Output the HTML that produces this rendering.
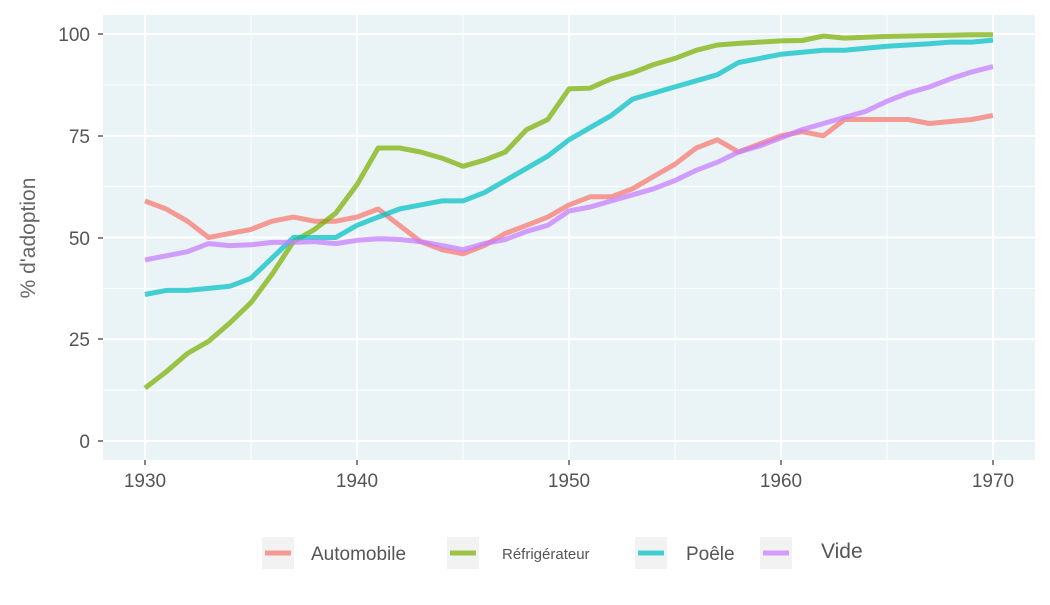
<!DOCTYPE html>
<html><head><meta charset="utf-8"><style>
html,body{margin:0;padding:0;background:#fff;}
svg text{font-family:"Liberation Sans",sans-serif;}
</style></head><body>
<svg id="s" width="1050" height="600" xmlns="http://www.w3.org/2000/svg">
<rect x="103" y="15" width="932" height="445" fill="#eaf3f6"/>
<g id="grid"></g>
<g id="lines" fill="none" stroke-width="5" stroke-linejoin="round" stroke-opacity="0.72"></g>
<g font-size="19" fill="#555" text-anchor="end">
<text x="90" y="41">100</text><text x="90" y="143">75</text><text x="90" y="245">50</text><text x="90" y="346">25</text><text x="90" y="448">0</text>
</g>
<g font-size="19" fill="#555" text-anchor="middle">
<text x="145" y="487">1930</text><text x="357" y="487">1940</text><text x="569" y="487">1950</text><text x="781" y="487">1960</text><text x="993" y="487">1970</text>
</g>
<g stroke="#333" stroke-width="1.2">
<line x1="98" x2="103" y1="34" y2="34"/><line x1="98" x2="103" y1="136" y2="136"/><line x1="98" x2="103" y1="238" y2="238"/><line x1="98" x2="103" y1="339" y2="339"/><line x1="98" x2="103" y1="441" y2="441"/>
<line y1="460" y2="465" x1="145" x2="145"/><line y1="460" y2="465" x1="357" x2="357"/><line y1="460" y2="465" x1="569" x2="569"/><line y1="460" y2="465" x1="781" x2="781"/><line y1="460" y2="465" x1="993" x2="993"/>
</g>
<text transform="translate(35,238) rotate(-90)" font-size="21" fill="#666" text-anchor="middle">% d'adoption</text>
<g>
<rect x="262" y="537" width="32" height="32" fill="#f2f2f2"/><line x1="265" x2="291" y1="553" y2="553" stroke="#F8766D" stroke-opacity="0.72" stroke-width="5"/>
<text x="311" y="560" font-size="19" fill="#555">Automobile</text>
<rect x="447" y="537" width="32" height="32" fill="#f2f2f2"/><line x1="450" x2="476" y1="553" y2="553" stroke="#7CAE00" stroke-opacity="0.72" stroke-width="5"/>
<text x="502" y="559" font-size="15" fill="#555">Réfrigérateur</text>
<rect x="635" y="537" width="32" height="32" fill="#f2f2f2"/><line x1="638" x2="664" y1="553" y2="553" stroke="#00BFC4" stroke-opacity="0.72" stroke-width="5"/>
<text x="686" y="560" font-size="19" fill="#555">Poêle</text>
<rect x="760" y="537" width="32" height="32" fill="#f2f2f2"/><line x1="763" x2="789" y1="553" y2="553" stroke="#C77CFF" stroke-opacity="0.72" stroke-width="5"/>
<text x="821" y="558" font-size="21" fill="#555">Vide</text>
</g>
</svg>
<script>
var ns="http://www.w3.org/2000/svg";
function X(y){return 145+(y-1930)*21.2;}function Y(v){return 441-v*4.07;}
var g=document.getElementById('grid');
function ln(x1,y1,x2,y2,w){var l=document.createElementNS(ns,'line');l.setAttribute('x1',x1);l.setAttribute('y1',y1);l.setAttribute('x2',x2);l.setAttribute('y2',y2);l.setAttribute('stroke','#fff');l.setAttribute('stroke-width',w);g.appendChild(l);}
for(var v=0;v<=100;v+=12.5){ln(103,Y(v),1035,Y(v),v%25==0?2:1);}
for(var y=1930;y<=1970;y+=5){ln(X(y),15,X(y),460,y%10==0?2:1);}
var D={
"#F8766D":[59,57,54,50,51,52,54,55,54,54,55,57,53,49,47,46,48,51,53,55,58,60,60,62,65,68,72,74,71,73,75,76,75,79,79,79,79,78,78.5,79,80],
"#7CAE00":[13,17,21.5,24.5,29,34,41,49,52,56,63,72,72,71,69.5,67.5,69,71,76.5,79,86.5,86.7,89,90.5,92.5,94,96,97.3,97.7,98,98.3,98.4,99.5,99,99.2,99.4,99.5,99.6,99.7,99.8,99.8],
"#00BFC4":[36,37,37,37.5,38,40,45,50,50,50,53,55,57,58,59,59,61,64,67,70,74,77,80,84,85.5,87,88.5,90,93,94,95,95.5,96,96,96.5,97,97.3,97.6,98,98,98.5],
"#C77CFF":[44.5,45.5,46.5,48.5,48,48.2,48.8,48.8,49,48.5,49.3,49.7,49.5,49,48,47,48.5,49.5,51.5,53,56.5,57.5,59,60.5,62,64,66.5,68.5,71,72.5,74.5,76.5,78,79.5,81,83.5,85.5,87,89,90.7,92]};
var L=document.getElementById('lines');
for(var c in D){var p=D[c].map(function(v,i){return X(1930+i).toFixed(1)+','+Y(v).toFixed(1);}).join(' ');
var e=document.createElementNS(ns,'polyline');e.setAttribute('points',p);e.setAttribute('stroke',c);L.appendChild(e);}
</script>
</body></html>
